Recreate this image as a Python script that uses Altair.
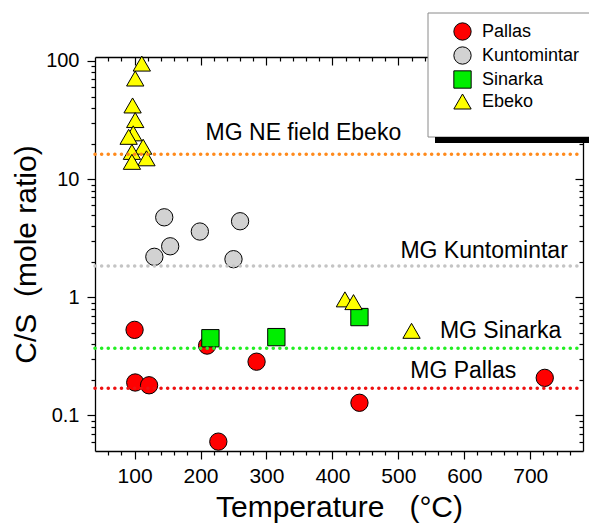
import altair as alt
import pandas as pd

# ---------------- data ----------------
SERIES = ["Pallas", "Kuntomintar", "Sinarka", "Ebeko"]

PALLAS_T = [100, 101, 122, 210, 227, 285, 441, 722]
PALLAS_CS = [0.53, 0.19, 0.18, 0.39, 0.06, 0.285, 0.128, 0.208]

KUNT_T = [145, 154, 130, 199, 260, 250]
KUNT_CS = [4.75, 2.7, 2.2, 3.6, 4.4, 2.1]

SIN_T = [215, 315, 441]
SIN_CS = [0.45, 0.46, 0.68]

EBEKO_T = [111, 101, 97, 101, 98, 91, 113, 96, 118, 96, 419, 432, 520]
EBEKO_CS = [95, 71, 42, 31.6, 24.4, 22.8, 18.8, 17, 15, 14, 0.96, 0.91, 0.52]

MG_LABELS = ["MG NE field Ebeko", "MG Kuntomintar", "MG Sinarka", "MG Pallas"]
MG_VALUES = [16.2, 1.84, 0.37, 0.17]

X_MAJOR = [100, 200, 300, 400, 500, 600, 700]
X_MINOR = [60, 80, 120, 140, 160, 180, 220, 240, 260, 280, 320, 340, 360, 380,
           420, 440, 460, 480, 520, 540, 560, 580, 620, 640, 660, 680, 720, 740, 760]
Y_MAJOR = [0.1, 1, 10, 100]
Y_MINOR = [0.06, 0.07, 0.08, 0.09, 0.2, 0.3, 0.4, 0.5, 0.6, 0.7, 0.8, 0.9,
           2, 3, 4, 5, 6, 7, 8, 9, 20, 30, 40, 50, 60, 70, 80, 90]

X_DOMAIN = [40, 780]
Y_DOMAIN = [0.05, 108]

# annotation placement (data coordinates) and alignment
ANN_T = [356, 757, 563, 518]
ANN_CS = [21.5, 2.15, 0.454, 0.208]
ANN_ALIGN = ["center", "right", "left", "left"]

# ---------------- styles ----------------
FILLS = ["#ff0000", "#d2d2d2", "#00ee00", "#ffff00"]
SHAPES = ["circle", "circle", "square", "triangle-up"]
SIZES = [300, 300, 225, 460]
STROKES = ["black", "black", "black", "black"]
LINE_COLORS = ["#ff8a1c", "#c4c4c4", "#22ee22", "#ee1111"]
FONT = "Liberation Sans"
W, H = 488, 394

rows = []
for name, ts, vs in [("Pallas", PALLAS_T, PALLAS_CS), ("Kuntomintar", KUNT_T, KUNT_CS),
                     ("Sinarka", SIN_T, SIN_CS), ("Ebeko", EBEKO_T, EBEKO_CS)]:
    for t, v in zip(ts, vs):
        rows.append({"t": t, "cs": v, "series": name})
pts = pd.DataFrame(rows)

mg = pd.DataFrame({"label": MG_LABELS, "cs": MG_VALUES,
                   "x0": [X_DOMAIN[0]] * 4, "x1": [X_DOMAIN[1]] * 4})
ann = pd.DataFrame({"label": MG_LABELS, "t": ANN_T, "cs": ANN_CS, "align": ANN_ALIGN})

XS = alt.Scale(domain=X_DOMAIN, nice=False, zero=False)
YS = alt.Scale(type="log", domain=Y_DOMAIN, nice=False)

x_vals = sorted(X_MAJOR + X_MINOR)
y_vals = sorted(Y_MAJOR + Y_MINOR)
x_major_test = "datum.value % 100 == 0"
y_major_test = "indexof([0.1, 1, 10, 100], datum.value) >= 0"

leg_expr = ("datum.label == 'Kuntomintar' || datum.label == 'Ebeko' ? "
            "'\u00a0' + datum.label : datum.label")
legend = alt.Legend(title=None, orient="none", legendX=358, legendY=-35,
                    labelFontSize=18, labelFont=FONT, labelColor="black",
                    labelOffset=10, rowPadding=1, labelExpr=leg_expr,
                    symbolStrokeWidth=1)

points = alt.Chart(pts).mark_point(filled=True, opacity=1, strokeWidth=1).encode(
    x=alt.X("t:Q", scale=XS, axis=alt.Axis(
        orient="bottom", values=x_vals, title="Temperature\u00a0\u00a0\u00a0(°C)",
        labelExpr=f"{x_major_test} ? datum.label : ''",
        tickSize={"expr": f"{x_major_test} ? 8 : 4"},
        labelFontSize=21, labelPadding=6, titleFontSize=30,
        titleX=W / 2, titleY=65, titleBaseline="alphabetic", titleAlign="center")),
    y=alt.Y("cs:Q", scale=YS, axis=alt.Axis(
        orient="left", values=y_vals, format="~g", title="C/S\u00a0\u00a0(mole ratio)",
        labelExpr=f"{y_major_test} ? datum.label : ''",
        tickSize={"expr": f"{y_major_test} ? 8 : 4"},
        labelFontSize=20, labelPadding=8, titleFontSize=30,
        titleX=-60, titleY=H / 2, titleAngle=270, titleBaseline="alphabetic",
        titleAlign="center")),
    fill=alt.Fill("series:N", scale=alt.Scale(domain=SERIES, range=FILLS), legend=legend),
    shape=alt.Shape("series:N", scale=alt.Scale(domain=SERIES, range=SHAPES), legend=legend),
    size=alt.Size("series:N", scale=alt.Scale(domain=SERIES, range=SIZES), legend=legend),
    stroke=alt.Stroke("series:N", scale=alt.Scale(domain=SERIES, range=STROKES), legend=legend),
)

rules = alt.Chart(mg).mark_rule(strokeWidth=3.5, strokeDash=[0.1, 6.5], strokeCap="round").encode(
    x=alt.X("x0:Q", scale=XS, axis=None),
    x2="x1:Q",
    y=alt.Y("cs:Q", scale=YS, axis=None),
    color=alt.Color("label:N", scale=alt.Scale(domain=MG_LABELS, range=LINE_COLORS), legend=None),
)

texts = []
for al in ["center", "right", "left"]:
    texts.append(
        alt.Chart(ann).transform_filter(alt.datum.align == al)
        .mark_text(align=al, baseline="alphabetic", font=FONT, fontSize=23, color="black")
        .encode(x=alt.X("t:Q", scale=XS, axis=None),
                y=alt.Y("cs:Q", scale=YS, axis=None),
                text="label:N"))

one = pd.DataFrame({"a": [0]})
legend_box = alt.Chart(one).mark_rect(fill="white", stroke="#8a8a8a", strokeWidth=1).encode(
    x=alt.value(333), x2=alt.value(500), y=alt.value(-44), y2=alt.value(80))
legend_shadow = alt.Chart(one).mark_rect(fill="black").encode(
    x=alt.value(340), x2=alt.value(500), y=alt.value(80), y2=alt.value(86))

mirror = alt.Chart(pts).mark_point(opacity=0).encode(
    x=alt.X("t:Q", scale=XS, axis=alt.Axis(
        orient="top", values=x_vals, labels=False, title=None,
        tickSize={"expr": f"{x_major_test} ? -8 : -4"})),
    y=alt.Y("cs:Q", scale=YS, axis=alt.Axis(
        orient="right", values=y_vals, labels=False, title=None,
        tickSize={"expr": f"{y_major_test} ? -8 : -4"})),
)

chart = alt.layer(points, rules, *texts, legend_box, legend_shadow, mirror).resolve_axis(
    x="independent", y="independent"
).properties(
    width=W, height=H,
    autosize=alt.AutoSizeParams(type="none"),
    padding={"left": 87, "top": 49, "right": 6, "bottom": 73},
).configure_view(stroke=None).configure_axis(
    grid=False, domainColor="black", domainWidth=1.3, tickColor="black", tickWidth=1.2,
    labelFont=FONT, labelColor="black", titleFont=FONT, titleColor="black",
    titleFontWeight="normal",
).configure_legend(padding=0)

chart.save("out.html", embed_options={"renderer": "svg", "actions": False})
